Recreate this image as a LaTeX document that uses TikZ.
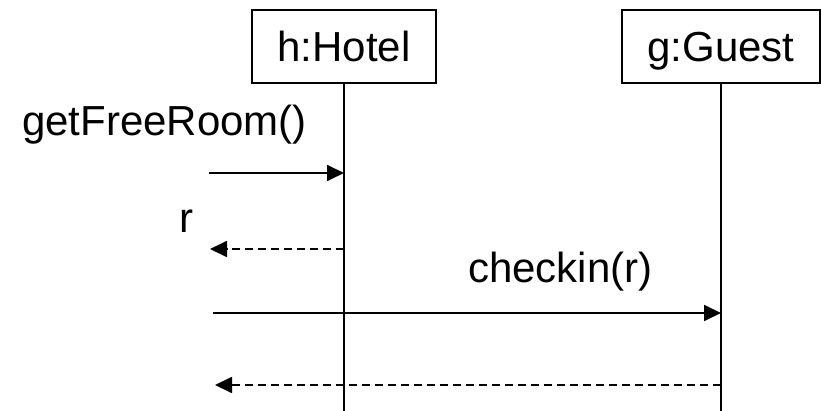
\documentclass[tikz,border=0pt]{standalone}
\usepackage{fontspec}
\setmainfont{Liberation Sans}
\usetikzlibrary{arrows.meta}
\begin{document}
\begin{tikzpicture}[x=1pt,y=-1pt,
  every node/.style={font=\fontsize{42}{50}\selectfont, inner sep=0pt},
  objbox/.style={draw, line width=1.6pt, minimum height=73pt, text height=40pt, text depth=9pt, anchor=north},
  lifeline/.style={line width=1.8pt},
  msg/.style={line width=1.8pt, -{Triangle[length=17pt,width=16pt]}},
  reply/.style={line width=1.8pt, dash pattern=on 8pt off 5pt, -{Triangle[length=17pt,width=16pt]}},
  lbl/.style={anchor=base west}]
\useasboundingbox (0,0) rectangle (821,411);

% object boxes
\node[objbox, minimum width=184pt] (hotel) at (344,9) {h:Hotel};
\node[objbox, minimum width=198pt] (guest) at (721,9) {g:Guest};

% lifelines
\coordinate (hend) at (344,411);
\coordinate (gend) at (721,411);
\draw[lifeline] (hotel.south) -- (hend);
\draw[lifeline] (guest.south) -- (gend);

% points on the lifelines
\coordinate (h1) at (344,173);
\coordinate (h2) at (344,249);
\coordinate (g3) at (721,313);
\coordinate (g4) at (721,385);

% free ends on the left
\coordinate (s1) at (209,173);
\coordinate (s2) at (210,249);
\coordinate (s3) at (213,313);
\coordinate (s4) at (215,385);

% messages
\draw[msg] (s1) -- (h1);
\draw[reply] (h2) -- (s2);
\draw[msg] (s3) -- (g3);
\draw[reply] (g4) -- (s4);

% labels
\node[lbl] (l1) at (22,136) {getFreeRoom()};
\node[lbl] (l2) at (179,233) {r};
\node[lbl] (l3) at (468,283) {checkin(r)};
\end{tikzpicture}
\end{document}
